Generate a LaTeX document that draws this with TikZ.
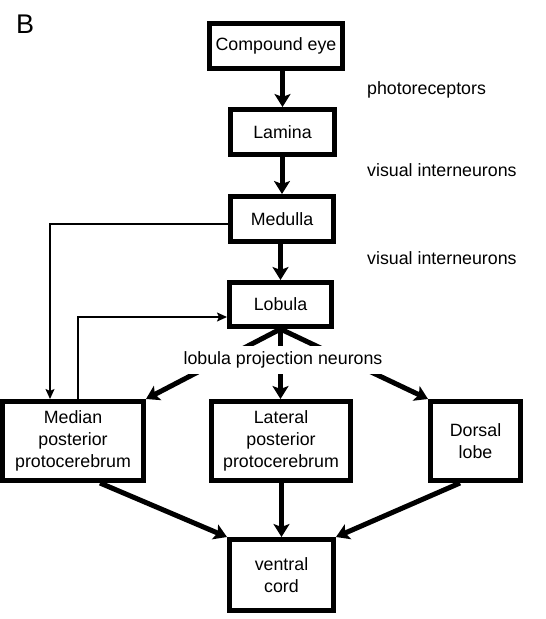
\documentclass[tikz,border=0pt]{standalone}
\usepackage{fontspec}
\setmainfont{Liberation Sans}
\usetikzlibrary{arrows.meta,calc}
\begin{document}
\begin{tikzpicture}[x=1pt,y=-1pt,
  box/.style={draw, line width=5pt, rectangle, inner sep=0pt, align=center,
    font=\fontsize{17.8}{22}\selectfont},
  arr/.style={line width=5pt, -{Stealth[length=13pt,width=16pt,inset=3pt]}},
  thin/.style={line width=1.5pt, -{Stealth[length=10pt,width=9pt,inset=2pt]}},
  lbl/.style={font=\fontsize{17.8}{22}\selectfont, inner sep=1pt}]
\useasboundingbox (0,0) rectangle (546,619);
\node[font=\fontsize{27}{30}\selectfont, anchor=west, inner sep=0pt] (B) at (16,24) {B};
\node[box, minimum width=133pt, minimum height=45pt] (eye) at (276,46) {Compound eye};
\node[box, minimum width=104pt, minimum height=45pt] (lam) at (282.5,132) {Lamina};
\node[box, minimum width=103pt, minimum height=45pt] (med) at (282,219) {Medulla};
\node[box, minimum width=102pt, minimum height=44pt] (lob) at (280.5,304.5) {Lobula};
\node[box, minimum width=141pt, minimum height=79pt] (mpp) at (73,441) {Median\\posterior\\protocerebrum};
\node[box, minimum width=139pt, minimum height=79pt] (lpp) at (281,441) {Lateral\\posterior\\protocerebrum};
\node[box, minimum width=90pt, minimum height=79pt] (dl) at (475.5,441) {Dorsal\\lobe};
\node[box, minimum width=104pt, minimum height=71pt] (vc) at (281.5,575) {ventral\\cord};
\node[lbl, anchor=west] (l1) at (366,90) {photoreceptors};
\node[lbl, anchor=west] (l2) at (366,170) {visual interneurons};
\node[lbl, anchor=west] (l3) at (366,258) {visual interneurons};
% main vertical arrows
\draw[arr] (eye.south -| lam.north) -- (lam.north);
\draw[arr] (lam.south -| med.north) -- (med.north);
\draw[arr] (med.south -| lob.north) -- (lob.north);
% lobula projections
\draw[arr] (lob.south) -- (mpp.north east);
\draw[arr] (lob.south) -- (lob.south |- lpp.north);
\draw[arr] (lob.south) -- (dl.north west);
\node[lbl, fill=white, inner xsep=2pt, inner ysep=6pt] (lpn) at (283,360) {lobula projection neurons};
% to ventral cord
\draw[arr] ($(mpp.south)+(27,0)$) -- (vc.north west);
\draw[arr] (lpp.south -| vc.north) -- (vc.north);
\draw[arr] ($(dl.south)+(-15.5,0)$) -- (vc.north east);
% thin feedback lines
\coordinate (m1) at ($(med.west)+(0,5)$);
\draw[thin] (m1) -- (50,224) -- (50,399);
\draw[thin] (78,399) -- (78,317) -- (lob.west |- 0,317);
\end{tikzpicture}
\end{document}
